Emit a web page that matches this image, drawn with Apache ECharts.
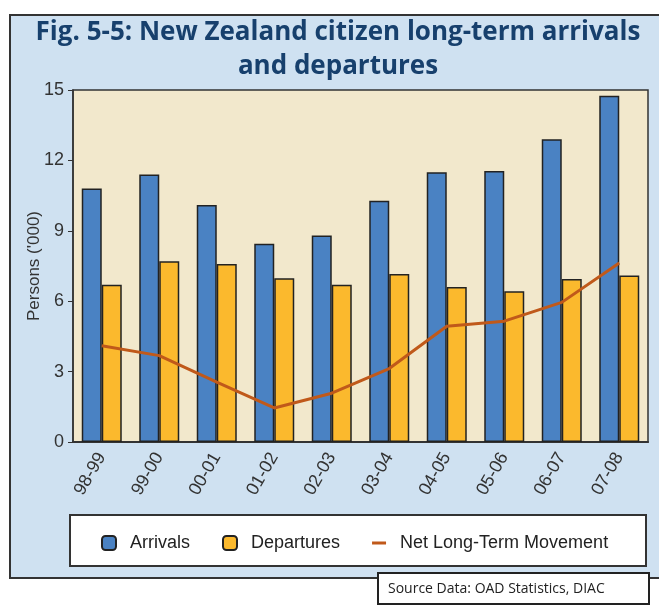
<!DOCTYPE html>
<html>
<head>
<meta charset="utf-8">
<script src="https://cdn.jsdelivr.net/npm/echarts@6/dist/echarts.min.js"></script>
<style>
  html, body { margin: 0; padding: 0; background: #fff; }
  #chart { width: 659px; height: 606px; }
</style>
</head>
<body>
<div id="chart"></div>
<script>
// years (financial year pairs)
const years = ["98-99", "99-00", "00-01", "01-02", "02-03", "03-04", "04-05", "05-06", "06-07", "07-08"];
// persons, thousands
const arrivals = [10.8, 11.4, 10.1, 8.45, 8.8, 10.28, 11.5, 11.55, 12.9, 14.75];
const departures = [6.7, 7.7, 7.58, 6.98, 6.7, 7.16, 6.6, 6.42, 6.95, 7.1];
const netMovement = [4.1, 3.68, 2.55, 1.45, 2.08, 3.13, 4.93, 5.15, 5.95, 7.63];
const yTicks = { min: 0, max: 15, interval: 3 };

const font = '"Liberation Sans", Arial, sans-serif';
const titleFont = '"Open Sans", "Noto Sans", sans-serif';

let chart = echarts.init(document.getElementById("chart"));
chart.setOption({
  animation: false,
  backgroundColor: "#ffffff",
  graphic: [
    {
      // outer panel
      type: "rect",
      z: -10,
      shape: { x: 10, y: 15, width: 660, height: 563 },
      style: { fill: "#cfe1f1", stroke: "#333333", lineWidth: 2 }
    },
    {
      type: "text",
      x: 338,
      y: 33,
      style: {
        text: "Fig. 5-5: New Zealand citizen long-term arrivals",
        align: "center",
        verticalAlign: "middle",
        font: "bold 26px " + titleFont,
        fill: "#17406d"
      }
    },
    {
      type: "text",
      x: 338,
      y: 67,
      style: {
        text: "and departures",
        align: "center",
        verticalAlign: "middle",
        font: "bold 26px " + titleFont,
        fill: "#17406d"
      }
    },
    {
      // legend frame
      type: "rect",
      z: 0,
      shape: { x: 70, y: 515, width: 576, height: 51 },
      style: { fill: "#ffffff", stroke: "#333333", lineWidth: 2 }
    },
    {
      // source box
      type: "group",
      z: 5,
      children: [
        {
          type: "rect",
          shape: { x: 378, y: 573, width: 271, height: 31 },
          style: { fill: "#ffffff", stroke: "#222222", lineWidth: 2 }
        },
        {
          type: "text",
          x: 388,
          y: 589,
          style: {
            text: "Source Data: OAD Statistics, DIAC",
            font: "14px " + titleFont,
            fill: "#222222",
            verticalAlign: "middle"
          }
        }
      ]
    }
  ],
  legend: {
    top: 529,
    left: 96,
    itemWidth: 14,
    itemHeight: 14,
    itemGap: 32,
    z: 10,
    textStyle: { fontFamily: font, fontSize: 18, color: "#222", padding: [0, 0, 0, 9] },
    data: [
      { name: "Arrivals" },
      { name: "Departures" },
      { name: "Net Long-Term Movement", icon: "path://M0,0 L14,0 L14,3 L0,3 Z" }
    ]
  },
  grid: {
    left: 73,
    right: 11,
    top: 90,
    bottom: 164,
    show: true,
    backgroundColor: "#f2e8cc",
    borderColor: "#333333",
    borderWidth: 1.5
  },
  xAxis: {
    type: "category",
    data: years,
    axisLine: { lineStyle: { color: "#333", width: 2 } },
    axisTick: { show: false },
    axisLabel: {
      rotate: 60,
      fontFamily: font,
      fontSize: 18,
      color: "#333",
      margin: 12
    }
  },
  yAxis: {
    type: "value",
    min: yTicks.min,
    max: yTicks.max,
    interval: yTicks.interval,
    name: "Persons ('000)",
    nameLocation: "middle",
    nameGap: 30,
    nameMoveOverlap: false,
    nameTextStyle: { fontFamily: font, fontSize: 17, color: "#333" },
    axisLine: { show: true, lineStyle: { color: "#333", width: 1.5 } },
    axisTick: { show: true, length: 5, lineStyle: { color: "#333" } },
    splitLine: { show: false },
    axisLabel: { fontFamily: font, fontSize: 18, color: "#333", margin: 9 }
  },
  series: [
    {
      name: "Arrivals",
      type: "bar",
      data: arrivals,
      barWidth: 20,
      barGap: "0%",
      itemStyle: { color: "#4a82c3", borderColor: "#222", borderWidth: 1.5 }
    },
    {
      name: "Departures",
      type: "bar",
      data: departures,
      barWidth: 20,
      barGap: "0%",
      itemStyle: { color: "#fbb92d", borderColor: "#222", borderWidth: 1.5 }
    },
    {
      name: "Net Long-Term Movement",
      type: "line",
      data: netMovement,
      symbol: "none",
      z: 5,
      lineStyle: { color: "#c0591a", width: 3 },
      itemStyle: { color: "#c0591a" }
    }
  ]
});
</script>
</body>
</html>
